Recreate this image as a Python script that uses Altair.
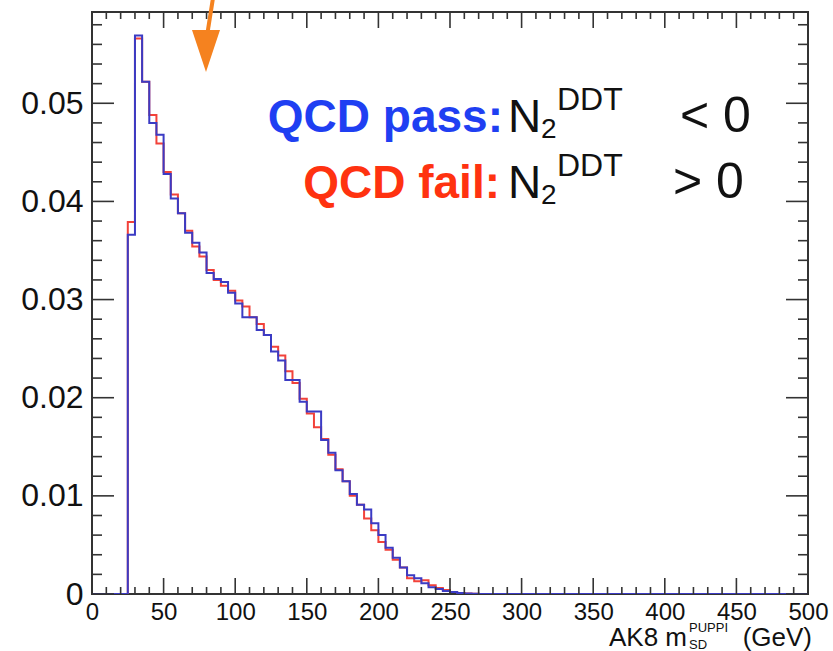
import altair as alt
import pandas as pd

# ---- data ----
bin_low = list(range(25, 270, 5))  # 5 GeV bins, 25 .. 265
qcd_pass = [0.0366, 0.0569, 0.0522, 0.0480, 0.0468, 0.0428, 0.0403, 0.0388, 0.0368, 0.0358,
            0.0348, 0.0327, 0.0321, 0.0318, 0.0307, 0.0296, 0.0282, 0.0282, 0.0269, 0.0264,
            0.0247, 0.0238, 0.0218, 0.0218, 0.0196, 0.0186, 0.0186, 0.0157, 0.0144, 0.0126,
            0.0115, 0.0102, 0.0091, 0.0086, 0.0072, 0.0060, 0.0047, 0.0037, 0.0027, 0.0019,
            0.0016, 0.0011, 0.0007, 0.0005, 0.0003, 0.0002, 0.0001, 0.00005, 0.00002]
qcd_fail = [0.0379, 0.0566, 0.0522, 0.0488, 0.0459, 0.0430, 0.0407, 0.0388, 0.0370, 0.0354,
            0.0344, 0.0330, 0.0320, 0.0314, 0.0309, 0.0299, 0.0293, 0.0282, 0.0275, 0.0264,
            0.0252, 0.0243, 0.0227, 0.0215, 0.0199, 0.0184, 0.0170, 0.0158, 0.0142, 0.0127,
            0.0115, 0.0100, 0.0091, 0.0077, 0.0065, 0.0053, 0.0045, 0.0035, 0.0027, 0.0016,
            0.0013, 0.0014, 0.0009, 0.0006, 0.0004, 0.0002, 0.0001, 0.00005, 0.00002]
x_range = [0, 500]
y_max = 0.0593
x_major = list(range(0, 501, 50))
x_minor = [v for v in range(0, 501, 10) if v % 50 != 0]
y_major = [0.0, 0.01, 0.02, 0.03, 0.04, 0.05]
y_minor = [round(0.002 * i, 3) for i in range(1, 30) if i % 5 != 0]

W, H = 716, 582
BLUE = "#3b3bc4"
RED = "#f2423a"


def hist_df(vals):
    xs = [x_range[0]] + bin_low + [bin_low[-1] + 5, x_range[1]]
    ys = [0.0] + vals + [0.0, 0.0]
    return pd.DataFrame({"m": xs, "v": ys})


xs = alt.Scale(domain=x_range, nice=False, zero=False)
ys = alt.Scale(domain=[0, y_max], nice=False)

label_expr_y = "datum.value == 0 ? '0' : format(datum.value, '.2f')"

base_red = alt.Chart(hist_df(qcd_fail)).mark_line(
    interpolate="step-after", color=RED, strokeWidth=2, clip=True
).encode(
    x=alt.X("m:Q", scale=xs, axis=alt.Axis(values=x_major, labelFontSize=24, labelPadding=6,
                                           ticks=False, domain=False, grid=False, title=None,
                                           labelFont="Liberation Sans", labelColor="#111",
                                           labelFlush=False)),
    y=alt.Y("v:Q", scale=ys, axis=alt.Axis(values=y_major, labelExpr=label_expr_y, labelFontSize=32,
                                           labelPadding=9, ticks=False, domain=False, grid=False,
                                           title=None, labelFont="Liberation Sans", labelColor="#111")),
)
blue = alt.Chart(hist_df(qcd_pass)).mark_line(
    interpolate="step-after", color=BLUE, strokeWidth=2, clip=True
).encode(x=alt.X("m:Q", scale=xs), y=alt.Y("v:Q", scale=ys))

TICK = "#333333"


def xticks(vals, length):
    d = pd.DataFrame({"t": vals})
    bot = alt.Chart(d).mark_rule(color=TICK, strokeWidth=1.6).encode(
        x=alt.X("t:Q", scale=xs), y=alt.value(H), y2=alt.value(H - length))
    top = alt.Chart(d).mark_rule(color=TICK, strokeWidth=1.6).encode(
        x=alt.X("t:Q", scale=xs), y=alt.value(0), y2=alt.value(length))
    return [bot, top]


def yticks(vals, length):
    d = pd.DataFrame({"t": vals})
    left = alt.Chart(d).mark_rule(color=TICK, strokeWidth=1.6).encode(
        y=alt.Y("t:Q", scale=ys), x=alt.value(0), x2=alt.value(length))
    right = alt.Chart(d).mark_rule(color=TICK, strokeWidth=1.6).encode(
        y=alt.Y("t:Q", scale=ys), x=alt.value(W), x2=alt.value(W - length))
    return [left, right]


one = alt.Data(values=[{"a": 1}])


def txt(text, x, y, size, color="#111111", align="left", font="Liberation Sans", weight="normal"):
    return alt.Chart(one).mark_text(
        text=text, align=align, baseline="alphabetic", fontSize=size, color=color,
        font=font, fontWeight=weight
    ).encode(x=alt.value(x), y=alt.value(y))


LEG_FONT = "Liberation Sans"
texts = [
    # x-axis title
    txt("(GeV)", 720, 634, 26, align="right"),
    txt("PUPPI", 597, 620, 13),
    txt("SD", 597, 637, 13),
    txt("AK8 m", 595, 634, 26, align="right"),
    # legend line 1
    txt("QCD pass:", 411, 120, 46, color="#1f3ff2", align="right", font=LEG_FONT, weight="bold"),
    txt("N", 416, 120, 46),
    txt("2", 449, 126, 28),
    txt("DDT", 465, 98, 32),
    txt("< 0", 588, 120, 50),
    # legend line 2
    txt("QCD fail:", 408, 186, 46, color="#ff3210", align="right", font=LEG_FONT, weight="bold"),
    txt("N", 416, 186, 46),
    txt("2", 449, 192, 28),
    txt("DDT", 465, 164, 32),
    txt("> 0", 581, 186, 50),
]

ORANGE = "#f5821f"
arrow_shaft = alt.Chart(one).mark_rule(color=ORANGE, strokeWidth=4).encode(
    x=alt.value(121), x2=alt.value(115), y=alt.value(-14), y2=alt.value(24))
arrow_head = alt.Chart(one).mark_point(
    shape="M-0.667,-1L0.667,-1L0,1Z", filled=True, color=ORANGE, opacity=1, size=1764, strokeWidth=0
).encode(x=alt.value(114), y=alt.value(39))

layers = [base_red, blue] + xticks(x_major, 16) + xticks(x_minor, 7) + yticks(y_major, 22) + \
    yticks(y_minor, 10) + texts + [arrow_shaft, arrow_head]

chart = alt.layer(*layers).properties(
    width=W, height=H,
    autosize=alt.AutoSizeParams(type="none"),
    padding={"left": 92, "top": 12, "right": 25, "bottom": 57},
    background="white",
).configure_view(stroke="#333333", strokeWidth=2)

chart.save("out.html", embed_options={"renderer": "svg", "actions": False})
